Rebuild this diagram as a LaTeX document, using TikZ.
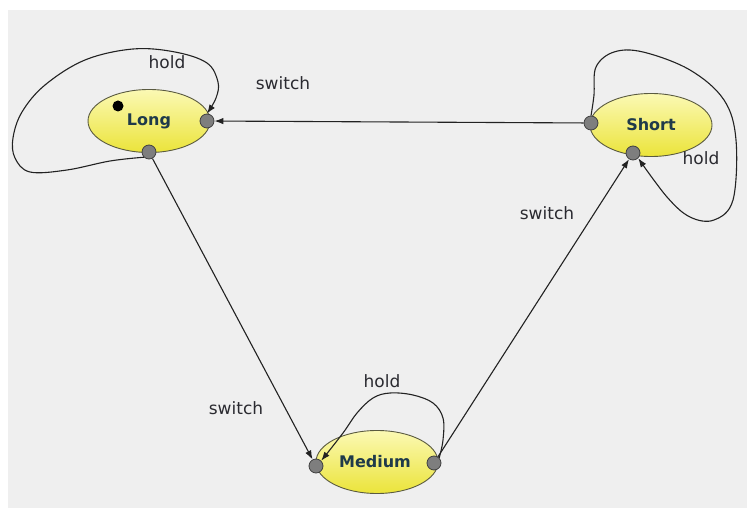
\documentclass[tikz,border=0pt]{standalone}
\usepackage{fontspec}
\setmainfont{DejaVu Sans}
\usetikzlibrary{shapes.geometric,arrows.meta}
\definecolor{bggray}{HTML}{EFEFEF}
\definecolor{edgecol}{HTML}{222222}
\definecolor{portfill}{HTML}{7E7E7E}
\definecolor{portline}{HTML}{404040}
\definecolor{nametext}{HTML}{1F3A4A}
\definecolor{labeltext}{HTML}{2A2A30}
\definecolor{ytop}{HTML}{FBF9B4}
\definecolor{ybot}{HTML}{EBE43A}
\definecolor{ellline}{HTML}{5A5A40}
\tikzset{
  state/.style={ellipse, draw=ellline, line width=0.9pt, top color=ytop, bottom color=ybot,
    minimum width=122pt, minimum height=63pt, inner sep=0pt, text=nametext,
    font=\fontsize{16}{19}\selectfont\bfseries},
  port/.style={circle, draw=portline, fill=portfill, line width=0.8pt, inner sep=0pt, minimum size=14pt},
  conn/.style={draw=edgecol, line width=1.1pt, -{Latex[length=9pt,width=6.5pt]}},
  lbl/.style={text=labeltext, font=\fontsize{17}{20}\selectfont, inner sep=0pt}
}
\begin{document}
\begin{tikzpicture}[x=1pt,y=-1pt]
\useasboundingbox (0,0) rectangle (747,508);
\fill[white] (0,0) rectangle (747,508);
\fill[bggray] (8,10) rectangle (747,508);

% states
\node[state] (long) at (149,121) {Long};
\node[state] (short) at (651,125) {Short};
\node[state] (medium) at (377,462) {\hspace*{-4pt}Medium};

% initial marker
\node[circle, fill=black, minimum size=11pt, inner sep=0pt] (init) at (118,106) {};

% ports
\node[port] (lr) at (207,121) {};
\node[port] (lb) at (149,152) {};
\node[port] (sl) at (591,123) {};
\node[port] (sb) at (633,153) {};
\node[port] (ml) at (316,466) {};
\node[port] (mr) at (434,463) {};

% switch transitions
\draw[conn] (sl) -- (lr);
\draw[conn] (lb) -- (ml);
\draw[conn] (mr) -- (sb);

% hold loops
\draw[conn] plot[smooth, tension=0.6] coordinates {(lb.south west) (110,161) (67,170) (30,172) (15,158) (13,138) (22,112) (45,85) (85,60) (133,49) (175,52) (207,63) (218,82) (216,98) (lr.north)};
\draw[conn] plot[smooth, tension=0.6] coordinates {(sl.north) (594,95) (596,67) (614,52) (643,52) (690,70) (724,100) (736,140) (733,200) (714,220) (690,217) (667,197) (sb.south east)};
\draw[conn] plot[smooth, tension=0.6] coordinates {(mr.north east) (443,440) (443,418) (433,403) (413,395) (390,393) (373,398) (357,413) (343,433) (ml.north east)};

% labels
\node[lbl] (h1) at (167,62) {hold};
\node[lbl] (s1) at (283,83) {switch};
\node[lbl] (s2) at (236,408) {switch};
\node[lbl] (s3) at (547,213) {switch};
\node[lbl] (h2) at (701,158) {hold};
\node[lbl] (h3) at (382,381) {hold};
\end{tikzpicture}
\end{document}
